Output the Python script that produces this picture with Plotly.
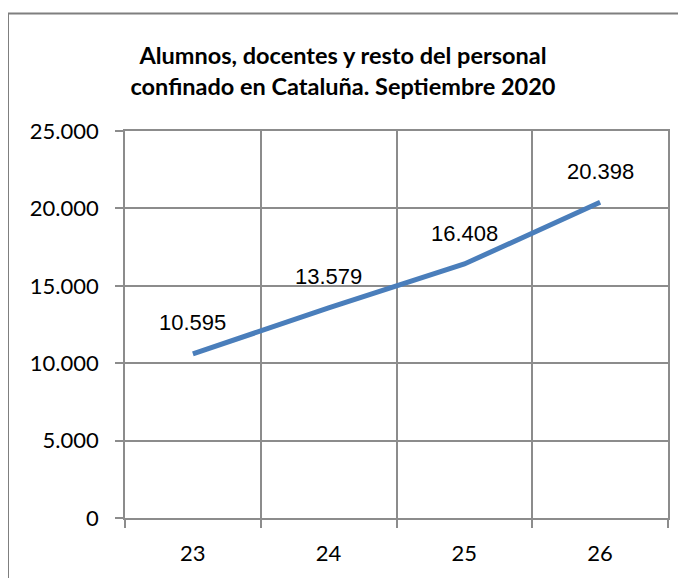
import plotly.graph_objects as go

# Data
days = [23, 24, 25, 26]
day_labels = ["23", "24", "25", "26"]
confined = [10595, 13579, 16408, 20398]
y_ticks = [0, 5000, 10000, 15000, 20000, 25000]
title_text = "Alumnos, docentes y resto del personal<br>confinado en Cataluña. Septiembre 2020"

GRID = "#8c8c8c"
FRAME = "#7f7f7f"
LINE = "#4A7EBB"

fig = go.Figure()
fig.add_trace(go.Scatter(
    x=days, y=confined, mode="lines",
    line=dict(color=LINE, width=5),
    hoverinfo="skip", showlegend=False,
))

def fmt(v):
    return f"{v:,}".replace(",", ".")

for xv, yv in zip(days, confined):
    fig.add_annotation(
        x=xv, y=yv, text=fmt(yv), showarrow=False,
        yshift=31, xanchor="center", yanchor="middle",
        font=dict(family="Liberation Sans", size=22, color="#000000"),
    )

# page body has an 8px margin, so the figure is 8px smaller than the window
W, H = 678, 570
L, R, T, B = 117, 18, 123, 58
pw, ph = W - L - R, H - T - B
fig.add_shape(
    type="rect", xref="paper", yref="paper",
    x0=(0 - L) / pw, x1=(W + 20 - L) / pw,
    y0=-(B + 20) / ph, y1=(H - B - 5) / ph,
    line=dict(color=FRAME, width=2), fillcolor="rgba(0,0,0,0)", layer="below",
)

fig.update_layout(
    width=W, height=H,
    margin=dict(l=L, r=R, t=T, b=B),
    paper_bgcolor="white", plot_bgcolor="white",
    separators=",.",
    title=dict(
        text=title_text, x=(343 - 8) / W, xref="container", xanchor="center",
        y=1 - 56 / H, yref="container", yanchor="top",
        font=dict(family="Lato", size=23.5, color="#000000", weight="bold"),
    ),
    xaxis=dict(
        range=[22.5, 26.5],
        tickvals=days, ticktext=day_labels,
        ticks="", showgrid=False, zeroline=False,
        showline=True, linecolor=GRID, linewidth=1.5, mirror=True,
        ticklabelstandoff=15,
        tickfont=dict(family="Lato", size=22, color="#000000"),
        minor=dict(tick0=22.5, dtick=1, ticks="outside", ticklen=8,
                   tickcolor=GRID, tickwidth=1.5,
                   showgrid=True, gridcolor=GRID, gridwidth=1.5),
    ),
    yaxis=dict(
        range=[0, 25000], tickvals=y_ticks, tickformat=",d",
        ticks="outside", ticklen=8, tickcolor=GRID, tickwidth=1.5,
        showgrid=True, gridcolor=GRID, gridwidth=1.5, zeroline=False,
        showline=True, linecolor=GRID, linewidth=1.5, mirror=True,
        ticklabelstandoff=12,
        tickfont=dict(family="Lato", size=22, color="#000000"),
    ),
)

fig.write_html("out.html")
